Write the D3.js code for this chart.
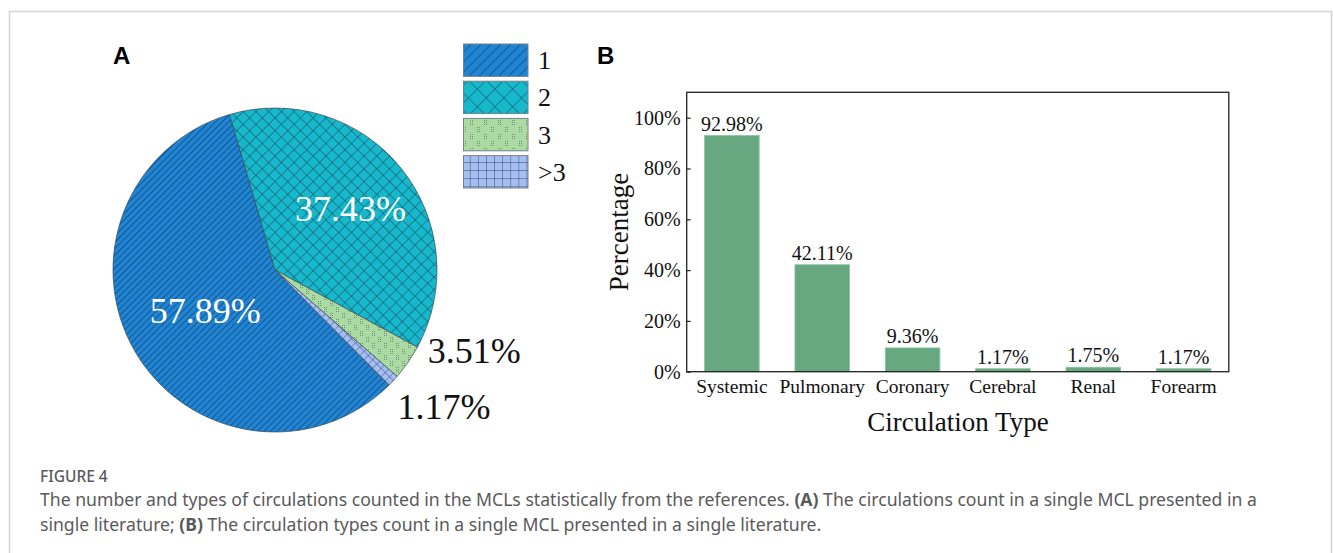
<!DOCTYPE html>
<html>
<head>
<meta charset="utf-8">
<script src="https://cdn.jsdelivr.net/npm/d3@7"></script>
<style>
  html, body { margin: 0; padding: 0; background: #fff; }
  svg { display: block; }
</style>
</head>
<body>
<svg id="chart" width="1333" height="553"></svg>
<script>
// ---------- DATA ----------
const pieCategories = ["1", "2", "3", ">3"];
const pieValues = [57.89, 37.43, 3.51, 1.17];
const pieLabels = ["57.89%", "37.43%", "3.51%", "1.17%"];

const barCategories = ["Systemic", "Pulmonary", "Coronary", "Cerebral", "Renal", "Forearm"];
const barValues = [92.98, 42.11, 9.36, 1.17, 1.75, 1.17];
const barLabels = ["92.98%", "42.11%", "9.36%", "1.17%", "1.75%", "1.17%"];
const yTicks = [0, 20, 40, 60, 80, 100];

const svg = d3.select("#chart");
const serif = "'Liberation Serif', 'Times New Roman', serif";
const sans = "'Liberation Sans', Arial, sans-serif";

// outer frame
svg.append("rect").attr("x", 9.5).attr("y", 11.5).attr("width", 1322).attr("height", 700)
  .attr("fill", "none").attr("stroke", "#d2d2d2").attr("stroke-width", 1.5);

// ---------- PATTERNS ----------
const defs = svg.append("defs");
function linePattern(id, bg, stroke, size, sw, rot, cross) {
  const p = defs.append("pattern").attr("id", id).attr("patternUnits", "userSpaceOnUse")
    .attr("width", size).attr("height", size).attr("patternTransform", `rotate(${rot})`);
  p.append("rect").attr("width", size).attr("height", size).attr("fill", bg);
  p.append("line").attr("x1", 0).attr("y1", 0).attr("x2", 0).attr("y2", size)
    .attr("stroke", stroke).attr("stroke-width", sw);
  if (cross) p.append("line").attr("x1", 0).attr("y1", 0).attr("x2", size).attr("y2", 0)
    .attr("stroke", stroke).attr("stroke-width", sw);
}
function dotPattern(id, bg, dot, size) {
  const p = defs.append("pattern").attr("id", id).attr("patternUnits", "userSpaceOnUse")
    .attr("width", size).attr("height", size);
  p.append("rect").attr("width", size).attr("height", size).attr("fill", bg);
  const clusters = [[1, 1], [size / 2 + 1, size / 2 + 1]];
  clusters.forEach(([cx, cy]) => {
    [[0,0],[2,0],[0,2],[2,2],[0,4],[2,4]].forEach(([dx, dy]) => {
      p.append("rect").attr("x", cx + dx).attr("y", cy + dy).attr("width", 1).attr("height", 1).attr("fill", dot);
    });
  });
}
const pieColors = ["#1f84d4", "#17b7cc", "#a9dba3", "#a6bff3"];
linePattern("p1pie", pieColors[0], "#12324f", 4.6, 1.1, 45, false);
linePattern("p2pie", pieColors[1], "#133c48", 9, 0.9, 45, true);
dotPattern("p3pie", pieColors[2], "#6f8f72", 12);
linePattern("p4pie", pieColors[3], "#2b3a66", 6, 0.8, 45, true);
linePattern("p1leg", pieColors[0], "#12324f", 7, 1.0, 45, false);
linePattern("p2leg", pieColors[1], "#133c48", 12.5, 0.9, 45, true);
dotPattern("p3leg", pieColors[2], "#6f8f72", 14);
linePattern("p4leg", pieColors[3], "#2b3a66", 8.1, 0.9, 0, true);
const piePatterns = ["p1pie", "p2pie", "p3pie", "p4pie"];
const legPatterns = ["p1leg", "p2leg", "p3leg", "p4leg"];

// ---------- PANEL A: PIE ----------
svg.append("text").attr("x", 113).attr("y", 64).attr("font-family", sans).attr("font-weight", "bold")
  .attr("font-size", 24).text("A");

const cx = 275, cy = 270, R = 162;
const start = 135.3 * Math.PI / 180;
const pie = d3.pie().sort(null).value(d => d).startAngle(start).endAngle(start + 2 * Math.PI);
const arcs = pie(pieValues);
const arc = d3.arc().innerRadius(0).outerRadius(R);
const gPie = svg.append("g").attr("transform", `translate(${cx},${cy})`);
gPie.selectAll("path").data(arcs).join("path")
  .attr("d", arc)
  .attr("fill", (d, i) => `url(#${piePatterns[i]})`)
  .attr("stroke", "#3a4a55").attr("stroke-width", 0.7);

// labels
const innerLabelArc = [d3.arc().innerRadius(R * 0.5).outerRadius(R * 0.5), d3.arc().innerRadius(R * 0.6).outerRadius(R * 0.6)];
const outerArc = d3.arc().innerRadius(R * 1.08).outerRadius(R * 1.08);
const labelTweak = [null, null, [9, -7], [-5, 29]];
arcs.forEach((a, i) => {
  let x, y, anchor, fill;
  if (i < 2) {
    [x, y] = innerLabelArc[i].centroid(a);
    y += 12; anchor = "middle"; fill = "#ffffff";
  } else {
    [x, y] = outerArc.centroid(a);
    x += labelTweak[i][0]; y += labelTweak[i][1]; anchor = "start"; fill = "#111";
  }
  gPie.append("text").attr("x", x).attr("y", y).attr("text-anchor", anchor)
    .attr("font-family", serif).attr("font-size", 36).attr("fill", fill).text(pieLabels[i]);
});

// legend
const legY = d3.scaleBand().domain(pieCategories).range([44, 188]).paddingInner(0.13).paddingOuter(0);
const gLeg = svg.append("g");
pieCategories.forEach((c, i) => {
  gLeg.append("rect").attr("x", 463.5).attr("y", legY(c)).attr("width", 64.5).attr("height", legY.bandwidth())
    .attr("fill", `url(#${legPatterns[i]})`).attr("stroke", "#7a8088").attr("stroke-width", 1);
  gLeg.append("text").attr("x", 538).attr("y", legY(c) + legY.bandwidth() / 2 + 9)
    .attr("font-family", serif).attr("font-size", 26).attr("fill", "#111").text(c);
});

// ---------- PANEL B: BARS ----------
svg.append("text").attr("x", 597).attr("y", 64).attr("font-family", sans).attr("font-weight", "bold")
  .attr("font-size", 24).text("B");

const m = { left: 686.7, right: 1228.8, top: 92.3, bottom: 371.7 };
const x = d3.scaleBand().domain(barCategories).range([m.left, m.right]).paddingInner(0.396).paddingOuter(0.198);
const y = d3.scaleLinear().domain([0, 110]).range([m.bottom, m.top]);

const gB = svg.append("g");
gB.selectAll("rect.bar").data(barValues).join("rect").attr("class", "bar")
  .attr("x", (d, i) => x(barCategories[i]))
  .attr("y", d => y(d))
  .attr("width", x.bandwidth())
  .attr("height", d => y(0) - y(d))
  .attr("fill", "#67a881").attr("stroke", "#8cc3a0").attr("stroke-width", 0.8);

gB.selectAll("text.val").data(barValues).join("text").attr("class", "val")
  .attr("x", (d, i) => x(barCategories[i]) + x.bandwidth() / 2)
  .attr("y", d => y(d) - 5)
  .attr("text-anchor", "middle").attr("font-family", serif).attr("font-size", 20).attr("fill", "#111")
  .text((d, i) => barLabels[i]);

// frame
gB.append("rect").attr("x", m.left).attr("y", m.top).attr("width", m.right - m.left).attr("height", m.bottom - m.top)
  .attr("fill", "none").attr("stroke", "#222").attr("stroke-width", 1.3);

const yAxis = d3.axisLeft(y).tickValues(yTicks).tickFormat(d => d + "%").tickSizeInner(-4).tickSizeOuter(0).tickPadding(6);
const gy = gB.append("g").attr("transform", `translate(${m.left},0)`).call(yAxis);
gy.select(".domain").remove();
gy.selectAll("line").attr("stroke", "#222").attr("stroke-width", 1.2);
gy.selectAll("text").attr("font-family", serif).attr("font-size", 20).attr("fill", "#111");

const xAxis = d3.axisBottom(x).tickSize(0).tickPadding(7);
const gx = gB.append("g").attr("transform", `translate(0,${m.bottom})`).call(xAxis);
gx.select(".domain").remove();
gx.selectAll("text").attr("font-family", serif).attr("font-size", 19.5).attr("fill", "#111");

gB.append("text").attr("transform", "translate(628,232) rotate(-90)").attr("text-anchor", "middle")
  .attr("font-family", serif).attr("font-size", 27).attr("fill", "#111").text("Percentage");
gB.append("text").attr("x", 958).attr("y", 431).attr("text-anchor", "middle")
  .attr("font-family", serif).attr("font-size", 27).attr("fill", "#111").text("Circulation Type");

// ---------- CAPTION ----------
const capFont = "'Noto Sans', 'Open Sans', sans-serif";
const capColor = "#5a5a5a";
svg.append("text").attr("x", 40).attr("y", 482).attr("font-family", capFont).attr("font-size", 15.5)
  .attr("font-weight", 500).attr("fill", capColor).text("FIGURE 4");
function capLine(yPos, parts) {
  const t = svg.append("text").attr("x", 40).attr("y", yPos).attr("font-family", capFont)
    .attr("font-size", 16).attr("fill", capColor);
  parts.forEach(([s, b]) => t.append("tspan").attr("font-weight", b ? "bold" : "normal").text(s));
  return t;
}
const l1 = capLine(505.5, [["The number and types of circulations counted in the MCLs statistically from the references. ", false], ["(A)", true], [" The circulations count in a single MCL presented in a", false]]);
const l2 = capLine(530.5, [["single literature; ", false], ["(B)", true], [" The circulation types count in a single MCL presented in a single literature.", false]]);
const w1 = l1.node().getComputedTextLength();
const fs = 16 * 1217 / w1;
l1.attr("font-size", fs); l2.attr("font-size", fs);
</script>
</body>
</html>
